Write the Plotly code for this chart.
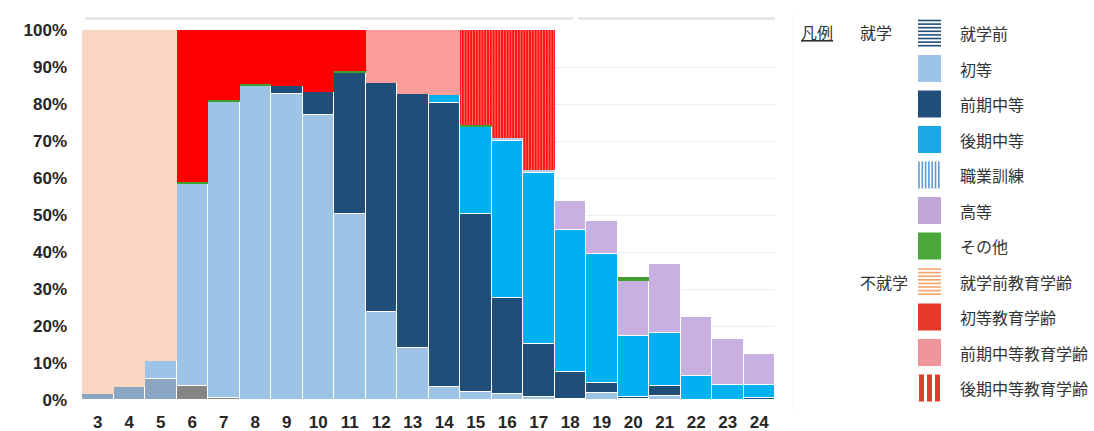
import plotly.graph_objects as go

ages = [str(a) for a in range(3, 25)]

# 就学 (attending)
pre_school   = [1.5, 3.6, 5.6, 3.8, 0.6, None, None, None, None, None, None, None, None, None, None, None, None, None, None, None, None, None]
primary      = [None, None, 4.9, 54.6, 80.0, 85.0, 82.7, 76.9, 50.3, 23.7, 14.0, 3.4, 2.2, 1.5, 0.9, 0.3, 1.8, 0.4, 1.1, None, None, None]
lower_sec    = [None, None, None, None, None, None, 2.1, 6.3, 38.2, 61.9, 68.6, 77.0, 48.0, 26.2, 14.3, 7.4, 2.7, 0.5, 2.7, None, None, 0.5]
upper_sec    = [None, None, None, None, None, None, None, None, None, None, None, 2.1, 23.7, 42.3, 46.1, 38.2, 34.9, 16.4, 14.2, 6.5, 4.1, 3.6]
vocational   = [None, None, None, None, None, None, None, None, None, None, None, None, None, 0.7, 0.9, None, None, None, None, None, None, None]
tertiary     = [None, None, None, None, None, None, None, None, None, None, None, None, None, None, None, 8.0, 9.0, 14.9, 18.7, 15.9, 12.5, 8.2]
other        = [None, None, None, 0.5, 0.5, 0.5, None, None, 0.5, None, None, None, 0.5, None, None, None, None, 1.0, None, None, None, None]
# 不就学 (not attending)
na_pre       = [98.5, 96.4, 89.5, None, None, None, None, None, None, None, None, None, None, None, None, None, None, None, None, None, None, None]
na_primary   = [None, None, None, 41.1, 18.9, 14.5, 15.2, 16.8, 11.0, None, None, None, None, None, None, None, None, None, None, None, None, None]
na_lower     = [None, None, None, None, None, None, None, None, None, 14.4, 17.4, 17.5, None, None, None, None, None, None, None, None, None, None]
na_upper     = [None, None, None, None, None, None, None, None, None, None, None, None, 25.6, 29.3, 37.8, None, None, None, None, None, None, None]

y_ticks = list(range(0, 101, 10))
y_tick_labels = [f"{v}%" for v in y_ticks]

pre_colors = ["#8ba6c2"] * 3 + ["#858585"] * 2 + ["#8ba6c2"] * 17

series = [
    ("就学前", pre_school, pre_colors, None, 1),
    ("初等", primary, "#9dc3e6", None, 1),
    ("前期中等", lower_sec, "#1f4e79", None, 1),
    ("後期中等", upper_sec, "#00b0f0", None, 1),
    ("職業訓練", vocational, "#b4d2ee", None, 1),
    ("高等", tertiary, "#c9b0e3", None, 1),
    ("その他", other, "#3f9f2f", None, 0),
    ("就学前教育学齢", na_pre, "#f9d6c1", None, 0),
    ("初等教育学齢", na_primary, "#ff0000", None, 0),
    ("前期中等教育学齢", na_lower, "#fa9d9b", None, 0),
    ("後期中等教育学齢", na_upper, "#ff1010",
     dict(shape="|", fgcolor="#ff8a8a", bgcolor="#ff1010", size=2.8, solidity=0.3, fillmode="replace"), 0),
]

fig = go.Figure()
for name, vals, col, pat, lw in series:
    marker = dict(color=col, line=dict(color="white", width=lw))
    if pat:
        marker["pattern"] = pat
    fig.add_trace(go.Bar(x=ages, y=vals, name=name, marker=marker, showlegend=False,
                         hovertemplate="%{x}: %{y}%<extra>" + name + "</extra>"))

L, R, T, B = 82, 775, 30, 400
def px(x):
    return (x - L) / (R - L)
def py(y):
    return (B - y) / (B - T)

shapes = []
# top decorative bar
shapes.append(dict(type="line", xref="paper", yref="paper", x0=px(85), x1=px(573), y0=py(18.5), y1=py(18.5),
                   line=dict(color="#e2e2e2", width=2.5)))
shapes.append(dict(type="line", xref="paper", yref="paper", x0=px(578), x1=px(775), y0=py(18.5), y1=py(18.5),
                   line=dict(color="#e2e2e2", width=2.5)))
shapes.append(dict(type="line", xref="paper", yref="paper", x0=px(793), x1=px(793), y0=py(15), y1=py(410),
                   line=dict(color="#f2f2f2", width=1)))

annotations = []
legend_font = dict(family="Noto Sans CJK JP", size=16, color="#333333")
annotations.append(dict(text="<u>凡例</u>", xref="paper", yref="paper", x=px(799), y=py(32), xanchor="left",
                        yanchor="middle", showarrow=False, font=legend_font))
annotations.append(dict(text="就学", xref="paper", yref="paper", x=px(858), y=py(32), xanchor="left",
                        yanchor="middle", showarrow=False, font=legend_font))
annotations.append(dict(text="不就学", xref="paper", yref="paper", x=px(858), y=py(282), xanchor="left",
                        yanchor="middle", showarrow=False, font=legend_font))

legend_items = [
    ("就学前", "hstripe", "#1f4e79"),
    ("初等", "solid", "#9dc3e6"),
    ("前期中等", "solid", "#1f4e79"),
    ("後期中等", "solid", "#1aa7e3"),
    ("職業訓練", "vstripe", "#5b9bd5"),
    ("高等", "solid", "#c0a7d6"),
    ("その他", "solid", "#4aa83a"),
    ("就学前教育学齢", "hstripe", "#f5a56a"),
    ("初等教育学齢", "solid", "#e5392a"),
    ("前期中等教育学齢", "solid", "#ef949a"),
    ("後期中等教育学齢", "vbars", "#e5392a"),
]
sx0, sx1 = 918, 941
for i, (label, kind, col) in enumerate(legend_items):
    cy = 33 + i * 35.5
    y0, y1 = cy - 13.5, cy + 13.5
    if kind == "solid":
        shapes.append(dict(type="rect", xref="paper", yref="paper", x0=px(sx0), x1=px(sx1), y0=py(y1), y1=py(y0),
                           fillcolor=col, line=dict(width=0)))
    elif kind == "hstripe":
        yy = y0 + 1
        while yy <= y1:
            shapes.append(dict(type="line", xref="paper", yref="paper", x0=px(sx0), x1=px(sx1), y0=py(yy), y1=py(yy),
                               line=dict(color=col, width=1.6)))
            yy += 3.6
    elif kind == "vstripe":
        xx = sx0 + 1
        while xx <= sx1:
            shapes.append(dict(type="line", xref="paper", yref="paper", x0=px(xx), x1=px(xx), y0=py(y1), y1=py(y0),
                               line=dict(color=col, width=1.6)))
            xx += 3.3
    elif kind == "vbars":
        for k in range(3):
            bx = sx0 + 1 + k * 8
            shapes.append(dict(type="rect", xref="paper", yref="paper", x0=px(bx), x1=px(bx + 5), y0=py(y1), y1=py(y0),
                               fillcolor=col, line=dict(width=0)))
    annotations.append(dict(text=label, xref="paper", yref="paper", x=px(958), y=py(cy), xanchor="left",
                            yanchor="middle", showarrow=False, font=legend_font))

tick_font = dict(family="Liberation Sans", size=17, color="#262626", weight="bold")

fig.update_layout(
    width=1094, height=431,
    margin=dict(l=L, r=1094 - R, t=T, b=431 - B),
    barmode="stack", bargap=0,
    plot_bgcolor="white", paper_bgcolor="white",
    font=dict(family="Liberation Sans", size=17, color="#1a1a1a"),
    shapes=shapes, annotations=annotations,
    xaxis=dict(type="category", showgrid=False, zeroline=False, showline=False, ticks="",
               ticklabelstandoff=10, tickfont=tick_font, automargin=False),
    yaxis=dict(range=[0, 100], tickmode="array", tickvals=y_ticks, ticktext=y_tick_labels, showgrid=True,
               gridcolor="#ededed", gridwidth=1, zeroline=False, showline=False, ticks="",
               ticklabelstandoff=14, tickfont=tick_font, automargin=False),
)

fig.write_html("out.html", config={"displayModeBar": False},
               post_script="document.body.style.margin='0';document.body.style.overflow='hidden';")
